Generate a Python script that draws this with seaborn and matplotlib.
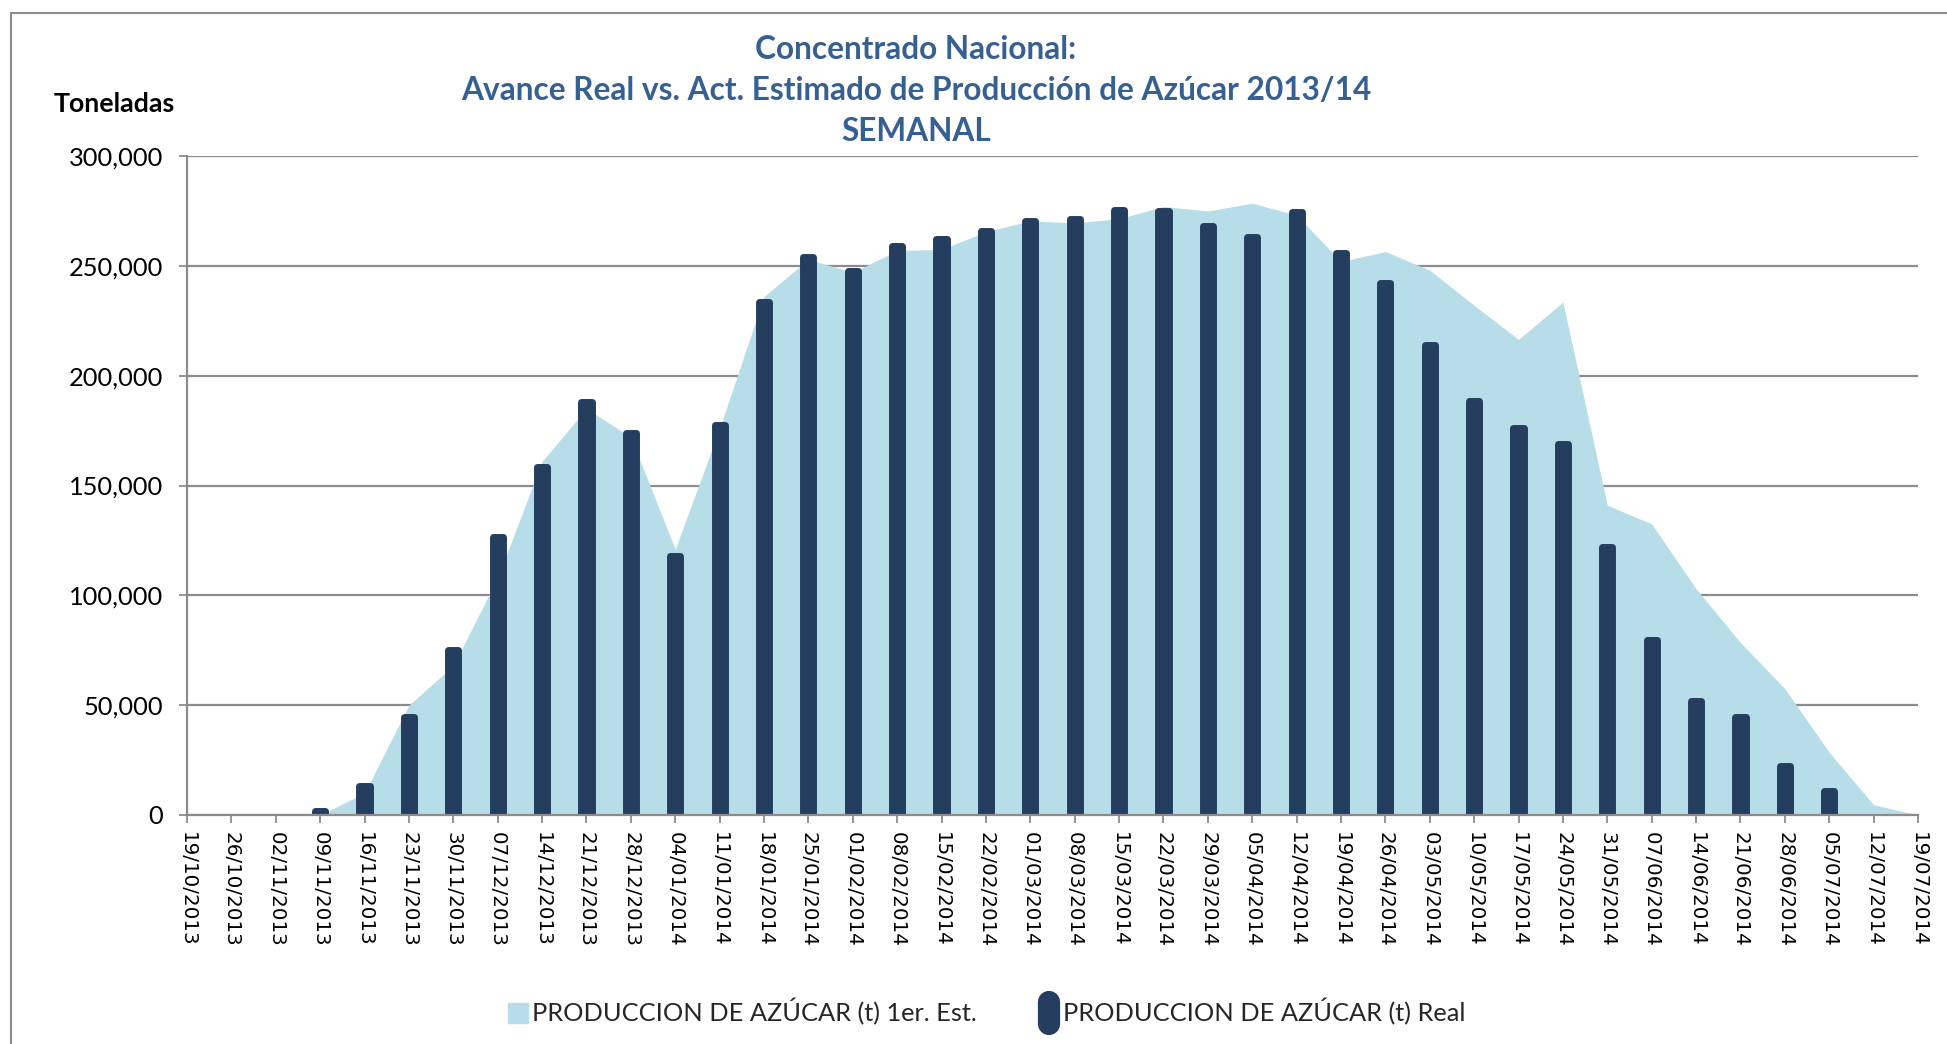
import numpy as np
import pandas as pd
import seaborn as sns
import matplotlib.pyplot as plt
from matplotlib.lines import Line2D
from matplotlib.markers import MarkerStyle
from matplotlib.patches import Rectangle
from matplotlib.ticker import FuncFormatter

nan = np.nan

semanas = ["19/10/2013", "26/10/2013", "02/11/2013", "09/11/2013", "16/11/2013",
           "23/11/2013", "30/11/2013", "07/12/2013", "14/12/2013", "21/12/2013",
           "28/12/2013", "04/01/2014", "11/01/2014", "18/01/2014", "25/01/2014",
           "01/02/2014", "08/02/2014", "15/02/2014", "22/02/2014", "01/03/2014",
           "08/03/2014", "15/03/2014", "22/03/2014", "29/03/2014", "05/04/2014",
           "12/04/2014", "19/04/2014", "26/04/2014", "03/05/2014", "10/05/2014",
           "17/05/2014", "24/05/2014", "31/05/2014", "07/06/2014", "14/06/2014",
           "21/06/2014", "28/06/2014", "05/07/2014", "12/07/2014", "19/07/2014"]

# 1er. estimado (area)
estimado = [nan, nan, nan, 0, 10000, 50000, 68000, 108000, 161000, 185000,
            172000, 121000, 176000, 236000, 253000, 247000, 257000, 257500, 265500, 270500,
            269500, 271500, 277000, 275000, 278500, 273000, 252000, 256500, 248000, 232000,
            216500, 233500, 141000, 132500, 103000, 78500, 57500, 28500, 4700, 0]

# real (barras)
real = [nan, nan, nan, 2000, 13000, 44500, 75000, 126500, 158500, 188000,
        174000, 118000, 177500, 233500, 254000, 247500, 259000, 262000, 266000, 270500,
        271500, 275500, 275000, 268000, 263000, 274500, 256000, 242000, 214000, 188500,
        176000, 169000, 122000, 79500, 52000, 44500, 22500, 11000, nan, nan]

titulo = "Concentrado Nacional:\nAvance Real vs. Act. Estimado de Producción de Azúcar 2013/14\nSEMANAL"
serie_est = "PRODUCCION DE AZÚCAR (t) 1er. Est."
serie_real = "PRODUCCION DE AZÚCAR (t) Real"

color_area = "#B7DEE8"
color_bar = "#253E5F"
color_title = "#376092"
color_grid = "#8C8C8C"

sns.set_theme(style="white")
plt.rcParams["font.family"] = ["Lato", "DejaVu Sans"]

df = pd.DataFrame({"semana": semanas, "estimado": estimado, "real": real})

W, H = 1947, 1044
fig = plt.figure(figsize=(W / 100, H / 100), dpi=100)
ax = fig.add_axes([187 / W, 1 - 815 / H, (1918 - 187) / W, (815 - 156) / H])

x = np.arange(len(semanas))
ax.fill_between(x, df["estimado"], color=color_area, linewidth=0, zorder=1)
sns.barplot(data=df, x="semana", y="real", order=semanas, color=color_bar,
            width=0.23, saturation=1, linewidth=5, edgecolor=color_bar, ax=ax, zorder=2)
for p in ax.patches:
    p.set_joinstyle("round")

ax.set_xlim(0, len(semanas) - 1)
ax.set_ylim(0, 300000)
ax.set_yticks(np.arange(0, 300001, 50000))
ax.yaxis.set_major_formatter(FuncFormatter(lambda v, _: f"{v:,.0f}"))
ax.yaxis.grid(True, color=color_grid, linewidth=1.6)
ax.set_axisbelow(True)

ax.set_xticks(x)
ax.set_xticklabels(semanas, rotation=-90, fontsize=14.3, family="DejaVu Sans",
                   color="black")
ax.tick_params(axis="x", direction="out", length=6, width=1.3, color=color_grid, pad=6,
               bottom=True)
ax.tick_params(axis="y", direction="out", length=6, width=1.3, color=color_grid, pad=11,
               labelsize=18.3, labelcolor="black", left=True)
ax.set_xlabel("")
ax.set_ylabel("")

for s in ["top", "right"]:
    ax.spines[s].set_visible(False)
for s in ["left", "bottom"]:
    ax.spines[s].set_color(color_grid)
    ax.spines[s].set_linewidth(1.6)

fig.text(916 / W, 1 - 90 / H, titulo, ha="center", va="center", fontsize=22.8,
         fontweight="bold", color=color_title, linespacing=1.5)
fig.text(114 / W, 1 - 104 / H, "Toneladas", ha="center", va="center", fontsize=19.3,
         fontweight="bold", color="black")

handles = [
    Line2D([], [], linestyle="none", marker="s", markersize=14, color=color_area),
    Line2D([], [], linestyle="none", marker=MarkerStyle("|", capstyle="round"),
           markersize=16, markeredgewidth=16, color=color_bar),
]
fig.legend(handles, [serie_est, serie_real], loc="center", bbox_to_anchor=(986 / W, 1 - 1012 / H),
           ncol=2, frameon=False, fontsize=18.3, handlelength=0.9, handletextpad=0.1,
           columnspacing=2.4)

fig.add_artist(Rectangle((11 / W, -0.05), 1.2, 1 - 13 / H + 0.05, transform=fig.transFigure,
                         fill=False, edgecolor=color_grid, linewidth=1.5))

plt.savefig("out.png", dpi=100)
